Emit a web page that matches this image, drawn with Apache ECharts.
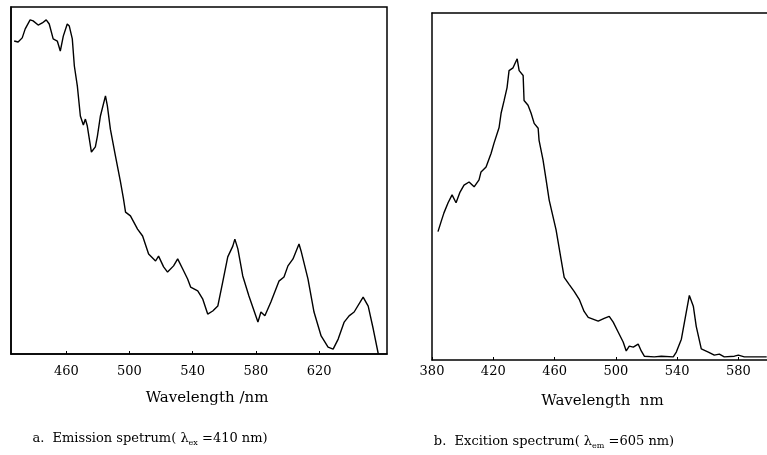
<!DOCTYPE html>
<html>
<head>
<meta charset="utf-8">
<script src="https://cdn.jsdelivr.net/npm/echarts@6/dist/echarts.min.js"></script>
<style>
html,body{margin:0;padding:0;background:#fff;}
#c{width:767px;height:455px;}
</style>
</head>
<body>
<div id="c"></div>
<script>
// Emission spectrum (λex = 410 nm): wavelength (nm) and relative intensity
var emWavelength = [427.0,429.5,432.1,434.0,437.1,439.0,442.2,444.8,447.3,449.2,451.7,454.3,456.2,458.1,460.6,461.9,463.8,465.1,467.0,468.9,470.8,472.1,473.3,475.9,478.4,479.7,481.6,484.8,486.0,487.9,491.1,494.3,496.2,497.5,500.6,505.1,508.3,512.1,516.5,518.4,521.6,524.1,527.9,530.5,533.7,536.8,538.7,543.2,546.3,549.5,552.7,555.9,559.0,562.2,565.4,566.7,568.6,571.7,575.6,581.3,583.2,585.7,589.5,594.6,597.8,600.3,603.5,607.3,608.6,613.0,616.8,621.3,625.7,628.9,632.1,635.9,639.0,642.2,647.9,651.1,654.3,657.5];
var emIntensity  = [90.2,89.9,91.1,93.7,96.3,96.0,94.8,95.4,96.3,95.1,90.8,90.2,87.3,91.6,95.1,94.5,90.8,83.0,77.2,68.6,66.0,67.7,65.7,58.2,59.7,62.8,68.6,74.4,71.5,64.8,57.1,49.6,44.7,40.9,39.8,36.0,34.0,28.8,26.8,28.2,25.1,23.6,25.4,27.4,24.5,21.6,19.3,18.2,15.9,11.5,12.4,13.8,20.7,28.0,31.1,33.1,30.3,22.5,16.7,9.2,12.1,11.0,15.0,21.0,22.2,25.4,27.4,31.7,29.7,21.6,12.1,5.2,2.0,1.4,4.3,9.2,11.0,12.1,16.4,13.8,7.2,0.0];

// Excitation spectrum (λem = 605 nm)
var exWavelength = [383.9,385.9,387.8,390.5,393.1,395.7,398.3,400.9,404.2,407.5,410.7,412.0,415.3,418.6,420.5,423.8,425.1,427.1,429.0,430.3,432.9,435.6,436.9,439.5,440.1,442.7,444.7,446.7,449.3,449.9,452.5,454.5,456.5,461.0,464.3,466.3,469.5,472.8,476.1,479.3,482.0,488.5,492.4,495.7,498.3,501.6,504.8,506.8,508.8,511.4,514.6,516.6,518.6,525.1,529.7,537.5,539.5,542.8,546.0,548.0,550.6,552.5,555.8,560.4,564.3,567.6,570.8,577.4,580.0,583.9,598.5];
var exIntensity  = [37.0,39.8,42.4,45.3,47.6,45.3,48.4,50.4,51.3,49.9,51.9,54.2,55.6,59.6,62.5,67.0,71.1,74.8,78.5,83.4,84.2,86.8,83.4,82.0,74.8,73.4,71.1,68.2,66.8,63.3,57.6,51.9,46.1,37.5,28.9,23.8,21.8,19.8,17.5,14.0,12.3,11.2,12.0,12.6,10.9,8.0,5.2,2.6,4.0,3.7,4.6,2.6,1.1,0.9,1.1,0.9,2.3,6.0,13.8,18.6,15.5,9.7,3.2,2.3,1.4,1.7,0.9,1.1,1.4,0.9,0.9];

var emTicks = [460,500,540,580,620];
var exTicks = [380,420,460,500,540,580];

var emData = emWavelength.map(function(w,i){return [w, emIntensity[i]];});
var exData = exWavelength.map(function(w,i){return [w, exIntensity[i]];});

var FONT = '"DejaVu Serif","Liberation Serif",serif';
var chart = echarts.init(document.getElementById('c'));

var subRich = {s: {fontFamily: FONT, fontSize: 8, padding: [7,0,0,0], fill: '#000', color: '#000'}};

chart.setOption({
  animation: false,
  backgroundColor: '#fff',
  textStyle: {fontFamily: FONT, color: '#000'},
  graphic: [
    {
      type: 'text', x: 150, y: 439,
      style: {
        text: 'a.  Emission spetrum( λ{s|ex} =410 nm)',
        font: '13px ' + FONT, fill: '#000', align: 'center', verticalAlign: 'middle',
        rich: subRich
      }
    },
    {
      type: 'text', x: 554, y: 442,
      style: {
        text: 'b.  Excition spectrum( λ{s|em} =605 nm)',
        font: '13px ' + FONT, fill: '#000', align: 'center', verticalAlign: 'middle',
        rich: subRich
      }
    }
  ],
  grid: [
    {left: 11, top: 7, width: 376, height: 347, show: true, borderColor: '#000', borderWidth: 1.5, backgroundColor: 'transparent'},
    {left: 432, top: 13, width: 335, height: 347, show: false}
  ],
  xAxis: [
    {
      gridIndex: 0, type: 'value', min: 425, max: 663,
      name: 'Wavelength /nm', nameLocation: 'middle', nameGap: 37,
      nameTextStyle: {fontFamily: FONT, fontSize: 15, color: '#000', padding: [0,0,0,16]},
      axisLine: {show: true, lineStyle: {color: '#000', width: 1.5}},
      axisTick: {show: true, inside: true, length: 3, customValues: emTicks, lineStyle: {color: '#000'}},
      axisLabel: {customValues: emTicks, fontFamily: FONT, fontSize: 13, color: '#000', margin: 11},
      splitLine: {show: false}
    },
    {
      gridIndex: 1, type: 'value', min: 380, max: 598.7,
      name: 'Wavelength  nm', nameLocation: 'middle', nameGap: 34,
      nameTextStyle: {fontFamily: FONT, fontSize: 15, color: '#000', padding: [0,0,0,6]},
      axisLine: {show: true, lineStyle: {color: '#000', width: 1.5}},
      axisTick: {show: true, inside: true, length: 3, customValues: exTicks, lineStyle: {color: '#000'}},
      axisLabel: {customValues: exTicks, fontFamily: FONT, fontSize: 13, color: '#000', margin: 5},
      splitLine: {show: false}
    },
    {
      gridIndex: 1, type: 'value', min: 380, max: 598.7, position: 'top',
      axisLine: {show: true, lineStyle: {color: '#000', width: 1.5}},
      axisTick: {show: false}, axisLabel: {show: false}, splitLine: {show: false}
    }
  ],
  yAxis: [
    {
      gridIndex: 0, type: 'value', min: 0, max: 100,
      axisLine: {show: true, lineStyle: {color: '#000', width: 1.5}},
      axisTick: {show: false}, axisLabel: {show: false}, splitLine: {show: false}
    },
    {
      gridIndex: 1, type: 'value', min: 0, max: 100,
      axisLine: {show: true, lineStyle: {color: '#000', width: 1.5}},
      axisTick: {show: false}, axisLabel: {show: false}, splitLine: {show: false}
    }
  ],
  series: [
    {
      type: 'line', xAxisIndex: 0, yAxisIndex: 0, data: emData,
      showSymbol: false, symbol: 'none', smooth: false,
      lineStyle: {color: '#000', width: 1.4}
    },
    {
      type: 'line', xAxisIndex: 1, yAxisIndex: 1, data: exData,
      showSymbol: false, symbol: 'none', smooth: false,
      lineStyle: {color: '#000', width: 1.4}
    }
  ]
});
</script>
</body>
</html>
